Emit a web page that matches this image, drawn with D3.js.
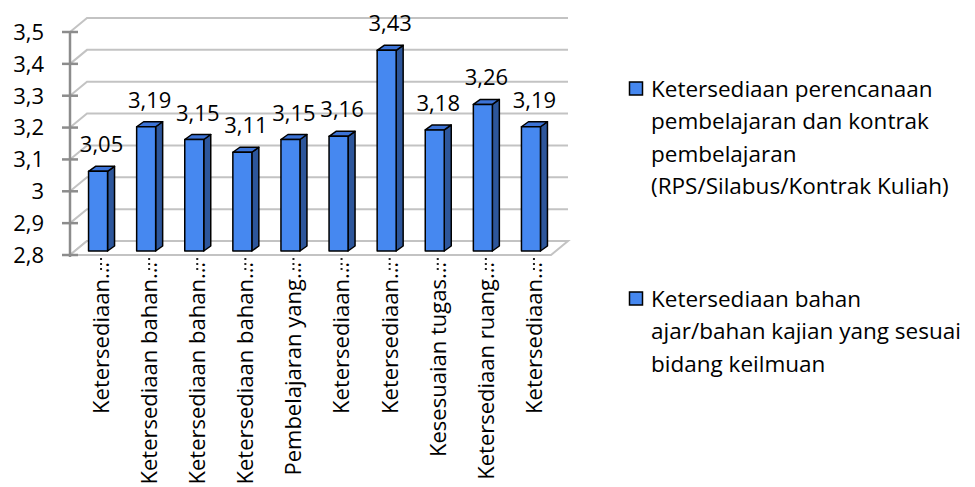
<!DOCTYPE html>
<html>
<head>
<meta charset="utf-8">
<script src="https://cdn.jsdelivr.net/npm/d3@7"></script>
<style>
  body { margin: 0; background: #fff; }
  text { font-family: "Open Sans", sans-serif; fill: #000; }
</style>
</head>
<body>
<div id="chart"></div>
<script>
const categories = [
  "Ketersediaan…", "Ketersediaan bahan…", "Ketersediaan bahan…", "Ketersediaan bahan…",
  "Pembelajaran yang…", "Ketersediaan…", "Ketersediaan…", "Kesesuaian tugas…",
  "Ketersediaan ruang…", "Ketersediaan…"
];
const values = [3.05, 3.19, 3.15, 3.11, 3.15, 3.16, 3.43, 3.18, 3.26, 3.19];
const yTicks = [2.8, 2.9, 3.0, 3.1, 3.2, 3.3, 3.4, 3.5];
const legendItems = [
  ["Ketersediaan perencanaan", "pembelajaran dan kontrak", "pembelajaran", "(RPS/Silabus/Kontrak Kuliah)"],
  ["Ketersediaan bahan", "ajar/bahan kajian yang sesuai", "bidang keilmuan"]
];

const W = 975, H = 487;
const fmt = v => d3.format(".2~f")(v).replace(".", ",");

const svg = d3.select("#chart").append("svg")
  .attr("width", W).attr("height", H);

const x = d3.scaleBand()
  .domain(d3.range(categories.length))
  .range([70, 551]);

const y = d3.scaleLinear()
  .domain([2.8, 3.5])
  .range([255, 32]);

// depth of the 3D box, and bar offsets
const depth = { dx: 17, dy: -14 };
const barShift = { dx: 4, dy: -4 };
const barDepth = { dx: 7, dy: -5 };
const barW = 19;
const gridColor = "#c3c3c3";

const [x0, x1] = x.range();

// left wall diagonals + back wall gridlines
const grid = svg.append("g");
yTicks.forEach(t => {
  grid.append("path")
    .attr("d", `M${x0},${y(t)} L${x0 + depth.dx},${y(t) + depth.dy} L${x1 + depth.dx},${y(t) + depth.dy}`)
    .attr("fill", "none")
    .attr("stroke", gridColor)
    .attr("stroke-width", 2);
});

// floor
svg.append("path")
  .attr("d", `M${x0},${y(2.8)} L${x1},${y(2.8)} L${x1 + depth.dx},${y(2.8) + depth.dy} L${x0 + depth.dx},${y(2.8) + depth.dy} Z`)
  .attr("fill", "#fff")
  .attr("stroke", gridColor)
  .attr("stroke-width", 2);

// y axis
const yAxis = svg.append("g");
yAxis.append("line")
  .attr("x1", x0).attr("x2", x0)
  .attr("y1", y(3.5)).attr("y2", y(2.8) + 2)
  .attr("stroke", "#8c8c8c").attr("stroke-width", 2.5);
yAxis.selectAll(".tick")
  .data(yTicks)
  .join("line")
  .attr("x1", x0 - 8).attr("x2", x0 + 8)
  .attr("y1", d => y(d)).attr("y2", d => y(d))
  .attr("stroke", "#8c8c8c").attr("stroke-width", 2.5);
yAxis.selectAll("text")
  .data(yTicks)
  .join("text")
  .attr("x", 44)
  .attr("y", d => y(d))
  .attr("dy", "0.36em")
  .attr("text-anchor", "end")
  .style("font-size", "22px")
  .text(d => fmt(d));

// x ticks (dotted) and labels
const xg = svg.append("g");
categories.forEach((c, i) => {
  const cx = x(i) + x.bandwidth() / 2 + 7;
  xg.append("line")
    .attr("x1", cx).attr("x2", cx)
    .attr("y1", y(2.8) + 3).attr("y2", y(2.8) + 17)
    .attr("stroke", "#222")
    .attr("stroke-width", 2)
    .attr("stroke-dasharray", "2,3");
  xg.append("text")
    .attr("transform", `translate(${cx},${y(2.8) + 7}) rotate(-90)`)
    .attr("dy", "0.36em")
    .attr("text-anchor", "end")
    .style("font-size", "22px")
    .text(c);
});

// bars
const bars = svg.append("g");
values.forEach((v, i) => {
  const left = x(i) + x.bandwidth() / 2 - barW / 2 + barShift.dx;
  const right = left + barW;
  const top = y(v) + barShift.dy;
  const bottom = y(2.8) + barShift.dy;
  const g = bars.append("g")
    .attr("stroke", "#000")
    .attr("stroke-width", 1.5)
    .attr("stroke-linejoin", "round");
  // side
  g.append("path")
    .attr("d", `M${right},${top} L${right + barDepth.dx},${top + barDepth.dy} L${right + barDepth.dx},${bottom + barDepth.dy} L${right},${bottom} Z`)
    .attr("fill", "#2d569b");
  // top
  g.append("path")
    .attr("d", `M${left},${top} L${left + barDepth.dx},${top + barDepth.dy} L${right + barDepth.dx},${top + barDepth.dy} L${right},${top} Z`)
    .attr("fill", "#3c73d6");
  // front
  g.append("rect")
    .attr("x", left).attr("y", top)
    .attr("width", barW).attr("height", bottom - top)
    .attr("fill", "#4688f0");

  svg.append("text")
    .attr("x", (left + right + barDepth.dx) / 2)
    .attr("y", top + barDepth.dy - 14)
    .attr("text-anchor", "middle")
    .style("font-size", "22px")
    .text(fmt(v));
});

// legend
const legend = svg.append("g");
const legendY = [97, 307];
legendItems.forEach((lines, k) => {
  legend.append("rect")
    .attr("x", 629.5).attr("y", legendY[k] - 15)
    .attr("width", 13).attr("height", 13)
    .attr("fill", "#4688f0")
    .attr("stroke", "#000")
    .attr("stroke-width", 1.5);
  const t = legend.append("text")
    .attr("x", 651)
    .attr("y", legendY[k])
    .style("font-size", "22.5px");
  lines.forEach((ln, j) => {
    t.append("tspan")
      .attr("x", 651)
      .attr("y", legendY[k] + j * 32.3)
      .text(ln);
  });
});
</script>
</body>
</html>
